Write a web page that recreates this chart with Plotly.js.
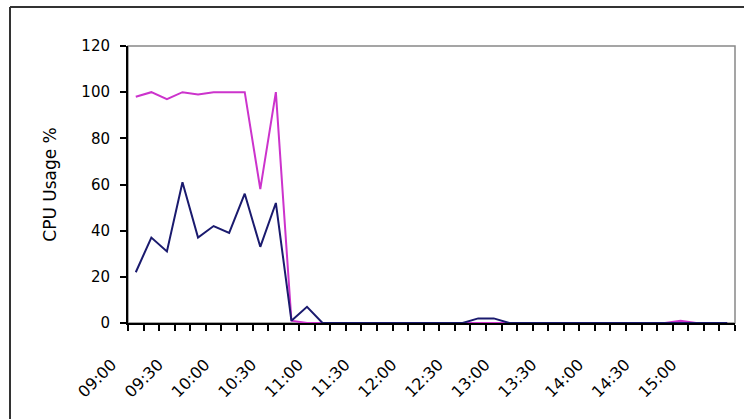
<!DOCTYPE html>
<html>
<head>
<meta charset="utf-8">
<script src="https://cdn.plot.ly/plotly-3.0.1.min.js"></script>
<style>
  html, body { margin: 0; padding: 0; background: #ffffff; overflow: hidden; }
  #chart { width: 744px; height: 419px; }
</style>
</head>
<body>
<div id="chart"></div>
<script>
// Time categories (10-minute samples)
const times = [
  "09:00","09:10","09:20","09:30","09:40","09:50",
  "10:00","10:10","10:20","10:30","10:40","10:50",
  "11:00","11:10","11:20","11:30","11:40","11:50",
  "12:00","12:10","12:20","12:30","12:40","12:50",
  "13:00","13:10","13:20","13:30","13:40","13:50",
  "14:00","14:10","14:20","14:30","14:40","14:50",
  "15:00","15:10","15:20"
];

// Series 1 (magenta)
const cpuMagenta = [
  98, 100, 97, 100, 99, 100,
  100, 100, 58, 100, 1, 0,
  0, 0, 0, 0, 0, 0,
  0, 0, 0, 0, 0, 0,
  0, 0, 0, 0, 0, 0,
  0, 0, 0, 0, 0, 1,
  0, 0, 0
];

// Series 2 (navy)
const cpuNavy = [
  22, 37, 31, 61, 37, 42,
  39, 56, 33, 52, 1, 7,
  0, 0, 0, 0, 0, 0,
  0, 0, 0, 0, 2, 2,
  0, 0, 0, 0, 0, 0,
  0, 0, 0, 0, 0, 0,
  0, 0, 0
];

// Labels shown every 30 minutes
const labelEvery = 3;
const tickLabels = times.map((t, i) => (i % labelEvery === 0 ? t : ""));

const yTicks = [0, 20, 40, 60, 80, 100, 120];
const yTitle = "CPU Usage %";

const FONT = "DejaVu Sans, Arial, sans-serif";

const traces = [
  {
    x: times, y: cpuMagenta, type: "scatter", mode: "lines",
    line: { color: "#cc33cc", width: 2 },
    cliponaxis: false, hoverinfo: "skip", showlegend: false
  },
  {
    x: times, y: cpuNavy, type: "scatter", mode: "lines",
    line: { color: "#1a1a6e", width: 2 },
    cliponaxis: false, hoverinfo: "skip", showlegend: false
  }
];

// plot-area geometry in pixels
const W = 744, H = 419;
const M = { l: 128, r: 9, t: 46, b: 96 };
const pw = W - M.l - M.r, ph = H - M.t - M.b;
const px = v => (v - M.l) / pw;
const py = v => (H - M.b - v) / ph;

const layout = {
  width: W, height: H, autosize: false,
  margin: M,
  paper_bgcolor: "#ffffff", plot_bgcolor: "#ffffff",
  font: { family: FONT, size: 15, color: "#000000" },
  showlegend: false,
  xaxis: {
    type: "category",
    range: [-0.5, times.length - 0.5],
    tickmode: "array",
    tickvals: times,
    ticktext: tickLabels,
    tickson: "boundaries",
    ticks: "outside", ticklen: 6, tickwidth: 2, tickcolor: "#000000",
    tickangle: -45,
    ticklabelshift: -24,
    ticklabelstandoff: 24,
    showline: true, linecolor: "#000000", linewidth: 2,
    showgrid: false, zeroline: false,
    tickfont: { family: FONT, size: 16, color: "#000000" },
    fixedrange: true
  },
  yaxis: {
    range: [0, 120],
    tickmode: "array",
    tickvals: yTicks,
    ticktext: yTicks.map(String),
    ticks: "outside", ticklen: 6, tickwidth: 2, tickcolor: "#000000",
    ticklabelstandoff: 7,
    showline: true, linecolor: "#000000", linewidth: 2,
    showgrid: false, zeroline: false,
    tickfont: { family: FONT, size: 15, color: "#000000" },
    title: { text: yTitle, font: { family: FONT, size: 17, color: "#000000" }, standoff: 20 },
    fixedrange: true
  },
  shapes: [
    // plot-area frame (grey top/right)
    { type: "rect", xref: "paper", yref: "paper", x0: 0, x1: 1, y0: 0, y1: 1,
      line: { color: "#888888", width: 1.5 }, layer: "below" },
    // outer chart border: left and top edges only (cropped in the reference)
    { type: "line", xref: "paper", yref: "paper",
      x0: px(10), x1: px(10), y0: py(H + 10), y1: py(7),
      line: { color: "#333333", width: 2 }, layer: "below" },
    { type: "line", xref: "paper", yref: "paper",
      x0: px(10), x1: px(W + 10), y0: py(7), y1: py(7),
      line: { color: "#333333", width: 2 }, layer: "below" }
  ]
};

Plotly.newPlot("chart", traces, layout, { displayModeBar: false, staticPlot: true });
</script>
</body>
</html>
